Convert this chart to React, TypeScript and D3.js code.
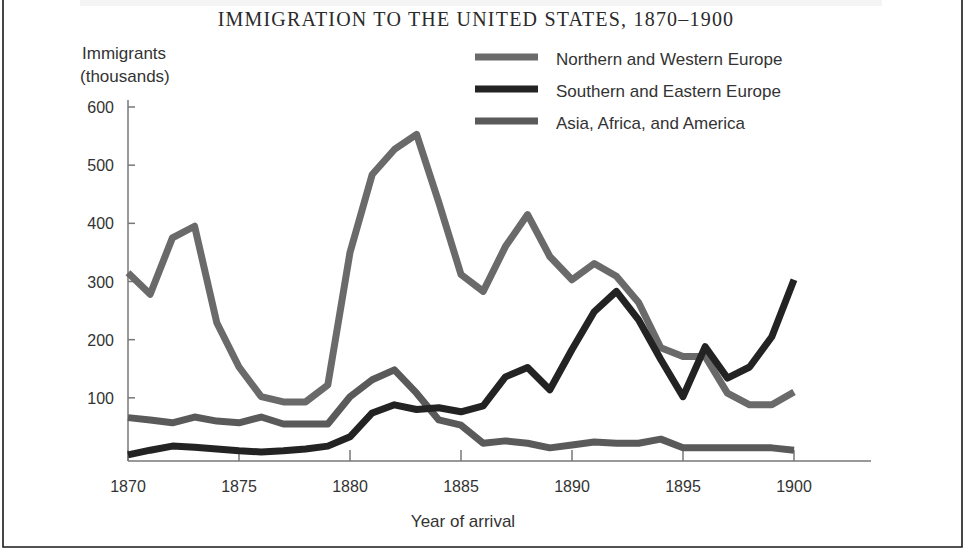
import React from "react";
import * as d3 from "d3";

const years: number[] = d3.range(1870, 1901);

// thousands of immigrants
const northWest: number[] = [
  315, 278, 375, 395, 229, 153, 102, 93, 93, 122,
  350, 484, 527, 553, 436, 312, 283, 360, 415, 343,
  303, 331, 309, 264, 186, 171, 171, 108, 88, 88, 110,
];
const southEast: number[] = [
  2, 10, 17, 15, 12, 9, 7, 9, 12, 17,
  33, 74, 88, 80, 83, 76, 86, 136, 152, 114,
  183, 248, 283, 234, 166, 102, 188, 134, 153, 205, 303,
];
const asiaAfricaAmerica: number[] = [
  66, 62, 57, 67, 60, 57, 67, 55, 55, 55,
  102, 131, 148, 108, 62, 53, 22, 26, 22, 14,
  19, 24, 22, 22, 29, 14, 14, 14, 14, 14, 10,
];

const yTicks: number[] = [100, 200, 300, 400, 500, 600];
const xTicks: number[] = [1870, 1875, 1880, 1885, 1890, 1895, 1900];

const seriesNames: string[] = [
  "Northern and Western Europe",
  "Southern and Eastern Europe",
  "Asia, Africa, and America",
];
const seriesColors: string[] = ["#6a6a6a", "#232323", "#5a5a5a"];

const W = 965;
const H = 550;
const sans = "'Liberation Sans', Arial, sans-serif";

export default function App() {
  const x = d3.scaleLinear().domain([1870, 1900]).range([128, 794]);
  const y = d3.scaleLinear().domain([0, 600]).range([456, 107]);
  const axisY = 461;

  const line = d3
    .line<number>()
    .x((_, i) => x(years[i]))
    .y((d) => y(d));

  // draw order: AAA under, then NWE, SEE on top where they cross
  const series = [northWest, southEast, asiaAfricaAmerica];
  const drawOrder = [2, 0, 1];

  return (
    <svg
      width={W}
      height={H}
      style={{ position: "absolute", left: 0, top: 0, background: "#fff" }}
    >
      <rect x={80} y={0} width={802} height={6} fill="#f4f4f4" />
      <path
        d={`M3,0 V547 H962 V0`}
        fill="none"
        stroke="#1a1a1a"
        strokeWidth={1.6}
      />

      <text
        x={476}
        y={26}
        textAnchor="middle"
        fontFamily="'Liberation Serif', 'Times New Roman', serif"
        fontSize={20}
        letterSpacing={1.2}
        fill="#2a2a2a"
      >
        IMMIGRATION TO THE UNITED STATES, 1870–1900
      </text>

      <g fontFamily={sans} fontSize={17} fill="#333">
        <text x={82} y={59}>Immigrants</text>
        <text x={80} y={82}>(thousands)</text>
      </g>

      {/* y axis */}
      <line x1={128} x2={128} y1={100} y2={axisY} stroke="#777" strokeWidth={1.5} />
      {yTicks.map((t) => (
        <g key={t}>
          <line x1={128} x2={135} y1={y(t)} y2={y(t)} stroke="#777" strokeWidth={1.5} />
          <text
            x={114}
            y={y(t) + 6}
            textAnchor="end"
            fontFamily={sans}
            fontSize={16}
            fill="#333"
          >
            {t}
          </text>
        </g>
      ))}

      {/* x axis */}
      <line x1={128} x2={871} y1={axisY} y2={axisY} stroke="#777" strokeWidth={1.5} />
      {xTicks.map((t) => (
        <g key={t}>
          <line x1={x(t)} x2={x(t)} y1={axisY} y2={axisY - 11} stroke="#777" strokeWidth={1.5} />
          <text
            x={x(t)}
            y={492}
            textAnchor="middle"
            fontFamily={sans}
            fontSize={16}
            fill="#333"
          >
            {t}
          </text>
        </g>
      ))}
      <text x={463} y={527} textAnchor="middle" fontFamily={sans} fontSize={17} fill="#333">
        Year of arrival
      </text>

      {/* lines */}
      {drawOrder.map((k) => (
        <path
          key={k}
          d={line(series[k]) || ""}
          fill="none"
          stroke={seriesColors[k]}
          strokeWidth={7}
          strokeLinejoin="round"
        />
      ))}

      {/* legend */}
      {seriesNames.map((name, i) => (
        <g key={name} transform={`translate(0,${57 + i * 32})`}>
          <line x1={475} x2={538} y1={0} y2={0} stroke={seriesColors[i]} strokeWidth={7} />
          <text x={556} y={7.5} fontFamily={sans} fontSize={17} fill="#333">
            {name}
          </text>
        </g>
      ))}
    </svg>
  );
}
